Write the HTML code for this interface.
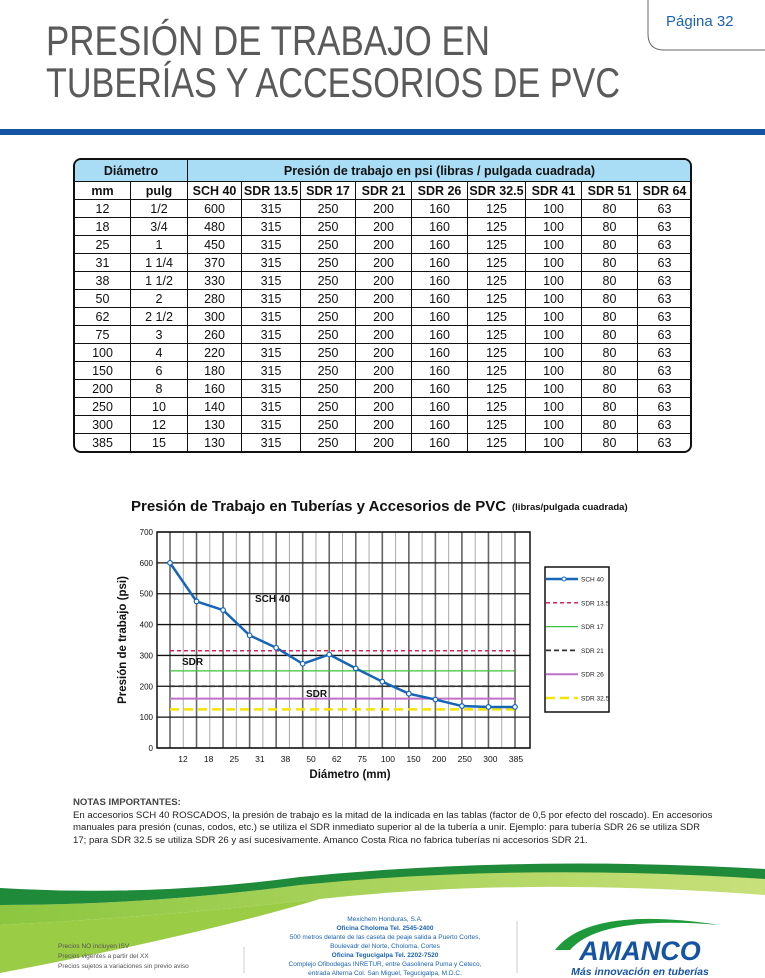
<!DOCTYPE html>
<html><head><meta charset="utf-8">
<style>
body{margin:0;background:#fff;}
#page{position:relative;width:765px;height:978px;overflow:hidden;font-family:"Liberation Sans",sans-serif;background:#fff;}
.abs{position:absolute;}
table{border-collapse:collapse;table-layout:fixed;font-size:12.5px;color:#111;}
td,th{border:1px solid #111;text-align:center;padding:0;height:17px;line-height:16px;}
th{font-weight:bold;}
</style></head>
<body>
<div id="page">
<svg class="abs" style="left:0;top:0" width="765" height="140">
  <text x="46" y="55" font-family="Liberation Sans" font-size="42" fill="#5a5a5a" textLength="444" lengthAdjust="spacingAndGlyphs">PRESIÓN DE TRABAJO EN</text>
  <text x="46" y="97" font-family="Liberation Sans" font-size="42" fill="#5a5a5a" textLength="574" lengthAdjust="spacingAndGlyphs">TUBERÍAS Y ACCESORIOS DE PVC</text>
  <path d="M648,-2 L648,34 Q648,50 664,50 L770,50" fill="none" stroke="#666" stroke-width="1"/>
  <text x="666" y="26" font-size="15" fill="#1a63b0">Página 32</text>
  <rect x="0" y="129" width="765" height="6" fill="#1553a3"/>
</svg>

<div class="abs" style="left:73px;top:158px;width:619px;border:2px solid #111;border-radius:8px;overflow:hidden;box-sizing:border-box;">
<table id="tbl" style="width:617px;margin:-1px;">
<colgroup><col style="width:56px"><col style="width:57px"><col style="width:54px"><col style="width:59px"><col style="width:55px"><col style="width:56px"><col style="width:56px"><col style="width:58px"><col style="width:56px"><col style="width:56px"><col style="width:54px"></colgroup>
<tr style="background:#a9dcf5"><th colspan="2" style="height:21px">Diámetro</th><th colspan="9">Presión de trabajo en psi (libras / pulgada cuadrada)</th></tr>
<tr><th>mm</th><th>pulg</th><th>SCH 40</th><th>SDR 13.5</th><th>SDR 17</th><th>SDR 21</th><th>SDR 26</th><th>SDR 32.5</th><th>SDR 41</th><th>SDR 51</th><th>SDR 64</th></tr>
</table>
</div>

<svg class="abs" style="left:0;top:480px" width="765" height="320" viewBox="0 480 765 320" id="chart">
  <text x="131" y="511" font-size="15" font-weight="bold" fill="#111">Presión de Trabajo en Tuberías y Accesorios de PVC</text>
  <text x="512" y="510" font-size="9.5" font-weight="bold" fill="#111">(libras/pulgada cuadrada)</text>
  <g id="grid"></g>
  <g id="series"></g>
  <text x="255" y="602" font-size="10" font-weight="bold" fill="#111">SCH 40</text>
  <text x="182" y="665" font-size="10" font-weight="bold" fill="#111">SDR</text>
  <text x="306" y="697" font-size="10" font-weight="bold" fill="#111">SDR</text>
  <text transform="translate(126,640) rotate(-90)" text-anchor="middle" font-size="11.5" font-weight="bold" fill="#111">Presión de trabajo (psi)</text>
  <text x="350" y="778" text-anchor="middle" font-size="11.5" font-weight="bold" fill="#111">Diámetro (mm)</text>
  <rect x="545" y="567" width="64" height="145" fill="#fff" stroke="#111" stroke-width="1.5"/>
  <g id="legend"></g>
</svg>

<div class="abs" style="left:73px;top:797px;width:640px;font-size:9.6px;line-height:12.5px;color:#222;">
<div style="font-weight:bold;color:#444">NOTAS IMPORTANTES:</div>
En accesorios SCH 40 ROSCADOS, la presión de trabajo es la mitad de la indicada en las tablas (factor de 0,5 por efecto del roscado). En accesorios manuales para presión (cunas, codos, etc.) se utiliza el SDR inmediato superior al de la tubería a unir. Ejemplo: para tubería SDR 26 se utiliza SDR 17; para SDR 32.5 se utiliza SDR 26 y así sucesivamente. Amanco Costa Rica no fabrica tuberías ni accesorios SDR 21.
</div>

<svg class="abs" style="left:0;top:855px" width="765" height="123">
  <defs><linearGradient id="lg" x1="0" x2="1"><stop offset="0" stop-color="#8cc63f"/><stop offset="1" stop-color="#c8e07a"/></linearGradient></defs>
  <path d="M0,50 Q150,50 300,30 Q500,8 765,22 L765,40 Q520,22 320,44 Q160,62 0,70 Z" fill="url(#lg)"/>
  <path d="M0,70 Q160,62 320,44 Q200,80 0,118 Z" fill="#9bcc45"/>
  <path d="M0,33 Q150,42 300,22 Q520,0 765,14 L765,24 Q520,8 300,30 Q150,50 0,50 Z" fill="#1f8a3a"/>
  <text x="58" y="93" font-size="6.5" fill="#555">Precios NO incluyen ISV</text>
  <text x="58" y="103" font-size="6.5" fill="#555">Precios vigentes a partir del XX</text>
  <text x="58" y="113" font-size="6.5" fill="#555">Precios sujetos a variaciones sin previo aviso</text>
  <line x1="244" y1="92" x2="244" y2="118" stroke="#ccc"/>
  <line x1="517" y1="66" x2="517" y2="118" stroke="#ccc"/>
  <g font-size="6.5" fill="#1a63b0" text-anchor="middle">
    <text x="385" y="66">Mexichem Honduras, S.A.</text>
    <text x="385" y="75" font-weight="bold">Oficina Choloma Tel. 2545-2400</text>
    <text x="385" y="84">500 metros delante de las caseta de peaje salida a Puerto Cortes,</text>
    <text x="385" y="93">Boulevadr del Norte, Choloma, Cortes</text>
    <text x="385" y="102" font-weight="bold">Oficina Tegucigalpa Tel. 2202-7520</text>
    <text x="385" y="111">Complejo Ofibodegas INRETUR, entre Gasolinera Puma y Ceteco,</text>
    <text x="385" y="120">entrada Alterna Col. San Miguel, Tegucigalpa, M.D.C.</text>
  </g>
  <path d="M555,95 Q590,50 720,70 Q600,60 570,95 Z" fill="#1f9a3a"/>
  <text x="640" y="105" font-size="27" font-weight="bold" fill="#1553a3" text-anchor="middle" font-style="italic">AMANCO</text>
  <text x="640" y="120" font-size="10.5" font-weight="bold" font-style="italic" fill="#1553a3" text-anchor="middle">Más innovación en tuberías</text>
</svg>
</div>

<script>
const mm = ["12","18","25","31","38","50","62","75","100","150","200","250","300","385"];
const pulg = ["1/2","3/4","1","1 1/4","1 1/2","2","2 1/2","3","4","6","8","10","12","15"];
const sch40 = [600,480,450,370,330,280,300,260,220,180,160,140,130,130];
const chartSch40 = [600,475,447,365,325,273,303,258,215,176,157,136,133,133];
const sdrRatings = [315,250,200,160,125,100,80,63];
const yTicks = [0,100,200,300,400,500,600,700];
const sdrNames = ["SDR 13.5","SDR 17","SDR 21","SDR 26","SDR 32.5"];
const sdrChartVals = [315,250,200,160,125];

// table
const tbl = document.getElementById('tbl');
mm.forEach((m,i)=>{
  const tr = document.createElement('tr');
  
  
  [m,pulg[i],sch40[i],...sdrRatings].forEach(v=>{
    const td=document.createElement('td'); td.textContent=v; tr.appendChild(td);
  });
  tbl.appendChild(tr);
});

// chart
const NS='http://www.w3.org/2000/svg';
const x0=157,x1=530,yTop=532,yBot=748;
const px = i => 170 + i*(515-170)/(mm.length-1);
const lx = i => 183 + i*(516-183)/(mm.length-1);
const py = v => yBot - v/700*(yBot-yTop);
function mk(tag,attrs,parent){const e=document.createElementNS(NS,tag);for(const k in attrs)e.setAttribute(k,attrs[k]);parent.appendChild(e);return e;}
const grid=document.getElementById('grid');
for(let i=0;i<mm.length;i++){
  const x=px(i);
  mk('line',{x1:x,x2:x,y1:yTop,y2:yBot,stroke:'#666','stroke-width':1.6},grid);
  const xm=x+(px(1)-px(0))/2;
  if(i<mm.length-1) mk('line',{x1:xm,x2:xm,y1:yTop,y2:yBot,stroke:'#aaa','stroke-width':1},grid);
  const t=mk('text',{x:lx(i),y:762,'font-size':8.5,'text-anchor':'middle',fill:'#111'},grid);
  t.textContent=mm[i];
  
  
}
yTicks.forEach(v=>{
  mk('line',{x1:x0,x2:x1,y1:py(v),y2:py(v),stroke:'#111','stroke-width':1.3},grid);
  const t=mk('text',{x:x0-4,y:py(v)+3,'font-size':8,'text-anchor':'end',fill:'#111'},grid);
  t.textContent=v;
  
  
});
mk('rect',{x:x0,y:yTop,width:x1-x0,height:yBot-yTop,fill:'none',stroke:'#111','stroke-width':1.5},grid);

const styles=[
 {stroke:'#d6245a',dash:'4,3',w:1.5},
 {stroke:'#3cc43c',dash:'',w:1.3},
 {stroke:'#333',dash:'5,3',w:1.8},
 {stroke:'#c070c8',dash:'',w:2},
 {stroke:'#f5e400',dash:'9,5',w:2.5}];
const ser=document.getElementById('series');
sdrChartVals.forEach((v,k)=>{
  const l=mk('line',{x1:px(0),x2:px(mm.length-1),y1:py(v),y2:py(v),stroke:styles[k].stroke,'stroke-width':styles[k].w,'stroke-dasharray':styles[k].dash},ser);
  
  
});
const pl=mk('polyline',{points:chartSch40.map((v,i)=>px(i)+','+py(v)).join(' '),fill:'none',stroke:'#1565b8','stroke-width':2.5},ser);


chartSch40.forEach((v,i)=>{
  const c=mk('circle',{cx:px(i),cy:py(v),r:2.3,fill:'#fff',stroke:'#1565b8','stroke-width':1.2},ser);
  
  
});
// legend
const lg=document.getElementById('legend');
const names=["SCH 40",...sdrNames];
names.forEach((n,k)=>{
  const y=579+k*23.8;
  if(k===0){
    mk('line',{x1:546,x2:578,y1:y,y2:y,stroke:'#1565b8','stroke-width':2.5},lg);
    mk('circle',{cx:564,cy:y,r:2,fill:'#fff',stroke:'#1565b8'},lg);
  } else {
    const s=styles[k-1];
    mk('line',{x1:546,x2:578,y1:y,y2:y,stroke:s.stroke,'stroke-width':s.w,'stroke-dasharray':s.dash},lg);
  }
  const t=mk('text',{x:581,y:y+2.5,'font-size':6.5,fill:'#222'},lg);
  t.textContent=n;
  
  
});
</script>
</body></html>
